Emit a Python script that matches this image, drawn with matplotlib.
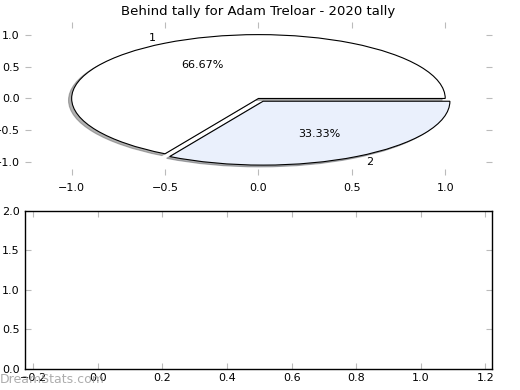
import matplotlib
matplotlib.use("Agg")
import matplotlib.pyplot as plt

title = "Behind tally for Adam Treloar - 2020 tally"
labels = ["1", "2"]
values = [2, 1]
explode = [0, 0.05]
colors = ["#ffffff", "#eaf0fc"]
bottom_xlim = (-0.225, 1.22)
bottom_ylim = (0, 2)

plt.rcParams.update({
    "font.size": 8,
    "xtick.direction": "in",
    "ytick.direction": "in",
    "xtick.top": True,
    "ytick.right": True,
    "xtick.color": "#bbbbbb",
    "ytick.color": "#bbbbbb",
    "xtick.labelcolor": "black",
    "ytick.labelcolor": "black",
    "xtick.major.size": 4,
    "ytick.major.size": 4,
    "xtick.major.pad": 6,
    "ytick.major.pad": 4,
})

fig = plt.figure(figsize=(5.2, 3.9), dpi=100)
ax1 = fig.add_axes([0.048, 0.551, 0.898, 0.393])
ax2 = fig.add_axes([0.048, 0.054, 0.898, 0.405])

wedges, texts, autotexts = ax1.pie(
    values, labels=labels, explode=explode, colors=colors,
    autopct="%.2f%%", shadow={"ox": -0.012, "oy": -0.02, "shade": 0.6},
    frame=True,
    wedgeprops={"edgecolor": "black", "linewidth": 0.8},
    textprops={"fontsize": 8},
)
ax1.set_aspect("auto")
ax1.set_xlim(-1.25, 1.25)
ax1.set_ylim(-1.2, 1.2)
ax1.set_xticks([-1.0, -0.5, 0.0, 0.5, 1.0])
ax1.set_yticks([-1.0, -0.5, 0.0, 0.5, 1.0])
for s in ax1.spines.values():
    s.set_visible(False)
ax1.set_title(title, fontsize=9.5, pad=5)

ax2.set_xlim(*bottom_xlim)
ax2.set_ylim(*bottom_ylim)
ax2.set_xticks([-0.2, 0.0, 0.2, 0.4, 0.6, 0.8, 1.0, 1.2])
ax2.set_yticks([0.0, 0.5, 1.0, 1.5, 2.0])
ax2.tick_params(axis="x", pad=3)
for s in ax2.spines.values():
    s.set_linewidth(1.0)

fig.text(0.0, 0.01, "DreamStats.com", fontsize=9, color="#999999", alpha=0.8,
         ha="left", va="bottom")

fig.savefig("out.png", dpi=100)
